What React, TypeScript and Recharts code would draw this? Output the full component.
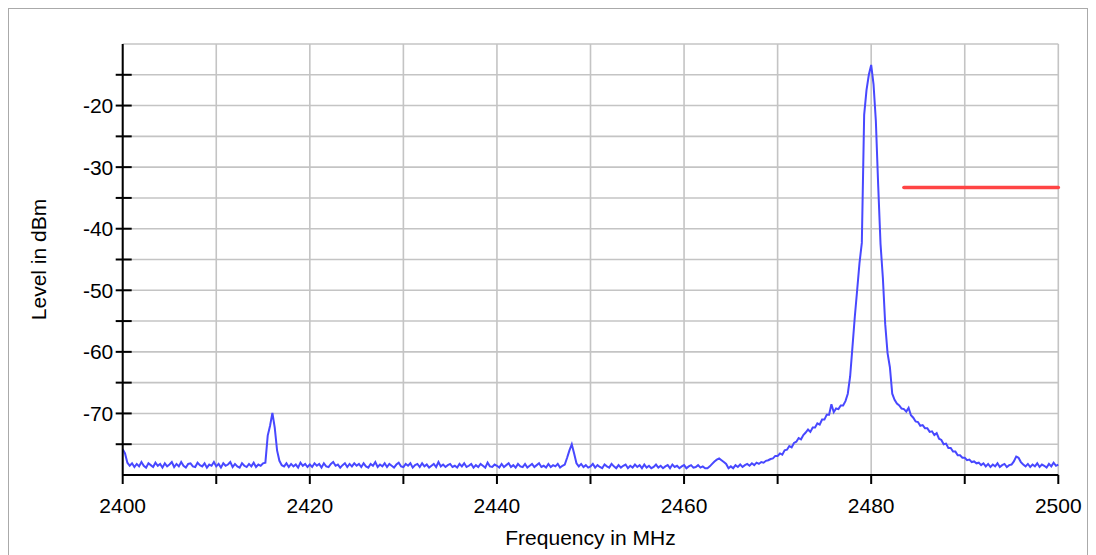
import { LineChart, Line, XAxis, YAxis, CartesianGrid, ReferenceLine } from "recharts"

// spectrum analyzer sweep, one bin every 0.25 MHz starting at 2400 MHz
const sweepStartMHz = 2400
const sweepStepMHz = 0.25

const band2400 = [
  -75.8, -76.5, -78.0, -78.5, -78.1, -78.7, -78.2, -78.6, -77.9, -78.5, -78.8, -78.1, -78.4, -78.7, -78.0, -78.5, -78.2, -78.8, -78.1, -78.6,
  -78.3, -77.9, -78.7, -78.2, -78.6, -77.9, -78.5, -78.8, -78.2, -78.1, -78.6, -78.7, -78.0, -78.4, -78.6, -78.1, -78.8, -78.3, -78.5, -77.9,
]
const band2410 = [
  -78.6, -78.2, -78.8, -78.1, -78.5, -78.3, -77.9, -78.7, -78.2, -78.6, -78.8, -78.1, -78.5, -78.7, -78.2, -78.6, -78.0, -78.7, -78.3, -78.5,
  -78.1, -78.0, -73.6, -72.0, -69.9, -72.3, -76.0, -77.7, -78.4, -78.6, -78.1, -78.7, -78.2, -78.6, -78.3, -78.8, -78.0, -78.5, -78.2, -78.7,
]
const band2420 = [
  -78.3, -78.7, -78.1, -78.5, -78.2, -78.8, -78.1, -78.6, -78.7, -78.2, -77.9, -78.5, -78.3, -78.8, -78.4, -78.1, -78.7, -78.2, -78.6, -78.1,
  -78.5, -78.2, -78.7, -78.1, -78.6, -78.8, -78.2, -78.5, -77.9, -78.7, -78.3, -78.6, -78.1, -78.7, -78.2, -78.5, -78.8, -78.3, -78.0, -78.6,
]
const band2430 = [
  -78.7, -78.2, -78.5, -78.1, -78.8, -78.4, -78.2, -78.7, -78.1, -78.6, -78.3, -78.8, -78.5, -78.2, -78.7, -77.9, -78.6, -78.3, -78.7, -78.4,
  -78.2, -78.7, -78.5, -78.8, -78.2, -78.6, -78.1, -78.7, -78.5, -78.2, -78.8, -78.4, -78.7, -78.2, -78.5, -78.8, -78.0, -78.6, -78.7, -78.3,
]
const band2440 = [
  -78.5, -78.8, -78.2, -78.7, -78.4, -78.1, -78.7, -78.4, -78.8, -78.2, -78.6, -78.7, -78.2, -78.8, -78.5, -78.2, -78.7, -78.4, -78.1, -78.7,
  -78.5, -78.8, -78.2, -78.7, -78.4, -78.6, -78.2, -78.8, -78.5, -78.3, -77.2, -76.0, -75.0, -76.5, -78.1, -78.6, -78.2, -78.7, -78.4, -78.8,
]
const band2450 = [
  -78.6, -78.2, -78.8, -78.4, -78.7, -78.9, -78.3, -78.6, -78.8, -78.2, -78.6, -78.9, -78.4, -78.8, -78.5, -78.3, -78.9, -78.5, -78.8, -78.3,
  -78.7, -78.4, -78.9, -78.3, -78.8, -78.5, -78.9, -78.7, -78.3, -78.8, -78.5, -78.9, -78.6, -78.4, -78.9, -78.3, -78.7, -78.5, -78.9, -78.6,
]
const band2460 = [
  -78.4, -78.9, -78.6, -78.4, -78.8, -78.7, -78.4, -78.8, -78.6, -78.9, -78.9, -78.6, -78.2, -77.8, -77.5, -77.3, -77.6, -77.9, -78.2, -78.9,
  -78.6, -78.9, -78.4, -78.7, -78.3, -78.7, -78.4, -78.2, -78.5, -78.1, -78.4, -78.0, -78.2, -77.9, -78.0, -77.7, -77.6, -77.4, -77.3, -76.9,
]
const band2470 = [
  -76.9, -76.5, -76.7, -76.0, -75.9, -75.3, -75.5, -74.8, -74.6, -74.0, -74.2, -73.5, -73.1, -72.6, -73.0, -72.3, -72.3, -71.6, -71.8, -71.0,
  -71.0, -70.2, -70.2, -68.5, -69.8, -69.2, -69.3, -68.7, -68.7, -68.0, -66.8, -64.0, -59.2, -54.3, -50.0, -45.6, -42.3, -21.5, -17.5, -15.0,
]
const band2480 = [
  -13.4, -16.5, -22.5, -33.0, -42.5, -48.0, -55.5, -60.2, -62.5, -66.8, -67.8, -68.4, -68.7, -69.2, -69.3, -69.7, -69.1, -70.3, -70.7, -71.3,
  -71.4, -72.0, -71.9, -72.4, -72.4, -73.0, -72.9, -73.5, -73.2, -74.1, -74.3, -75.0, -74.9, -75.6, -75.6, -76.2, -76.2, -76.8, -76.8, -77.2,
]
const band2490 = [
  -77.2, -77.6, -77.5, -77.9, -77.8, -78.1, -78.0, -78.4, -78.1, -78.6, -78.2, -78.7, -78.3, -78.6, -78.1, -78.7, -78.4, -78.2, -78.7, -78.4,
  -78.3, -77.8, -77.0, -77.2, -77.9, -78.3, -78.6, -78.2, -78.7, -78.3, -78.6, -78.1, -78.7, -78.3, -78.5, -78.8, -78.2, -78.6, -78.0, -78.5,
]
const lastBin = [-78.3]

const freqTicks = [2400, 2410, 2420, 2430, 2440, 2450, 2460, 2470, 2480, 2490, 2500]
const levelTicks = [-75, -70, -65, -60, -55, -50, -45, -40, -35, -30, -25, -20, -15]

// limit line drawn in red above the band edge
const limitStartMHz = 2483.5
const limitEndMHz = 2500
const limitDbm = -33.3

const levels = [
  ...band2400, ...band2410, ...band2420, ...band2430, ...band2440,
  ...band2450, ...band2460, ...band2470, ...band2480, ...band2490, ...lastBin,
]
const trace = levels.map((level, i) => ({ freq: sweepStartMHz + i * sweepStepMHz, level }))

const font = "'Liberation Sans', Arial, Helvetica, sans-serif"

const FreqTitle = ({ viewBox }: any) => (
  <text
    x={viewBox.x + viewBox.width / 2}
    y={viewBox.y + viewBox.height - 5}
    textAnchor="middle"
    fontFamily={font}
    fontSize={21}
    fill="#000"
  >
    Frequency in MHz
  </text>
)

const LevelTitle = ({ viewBox }: any) => {
  const cx = viewBox.x + 23
  const cy = viewBox.y + viewBox.height / 2
  return (
    <text x={cx} y={cy} transform={`rotate(-90 ${cx} ${cy})`} textAnchor="middle" fontFamily={font} fontSize={21} fill="#000">
      Level in dBm
    </text>
  )
}

export default function App() {
  return (
    <div style={{ width: 1078, height: 560, border: "1px solid #aaa", background: "#fff" }}>
      <LineChart
        width={1078}
        height={550}
        data={trace}
        margin={{ top: 35, right: 28.7, left: 13.7, bottom: 9 }}
        style={{ fontFamily: font }}
      >
        <CartesianGrid stroke="#c4c4c4" strokeWidth={1.6} />
        <XAxis
          dataKey="freq"
          type="number"
          domain={[2400, 2500]}
          ticks={freqTicks}
          interval={0}
          height={75}
          tickSize={9}
          tickMargin={14}
          tickFormatter={(v) => (v % 20 === 0 ? String(v) : "")}
          tick={{ fill: "#000", fontSize: 21 }}
          axisLine={{ stroke: "#000", strokeWidth: 2 }}
          tickLine={{ stroke: "#000", strokeWidth: 2 }}
          label={FreqTitle}
        />
        <YAxis
          type="number"
          domain={[-80, -10]}
          ticks={levelTicks}
          interval={0}
          width={100}
          tickSize={16}
          tickMargin={-6.6}
          tickFormatter={(v) => (v % 10 === 0 ? String(v) : "")}
          tick={{ fill: "#000", fontSize: 21 }}
          axisLine={{ stroke: "#000", strokeWidth: 2 }}
          tickLine={{ stroke: "#000", strokeWidth: 2, transform: "translate(9 0)" }}
          label={LevelTitle}
        />
        <Line
          type="linear"
          dataKey="level"
          stroke="#4848ff"
          strokeWidth={2}
          dot={false}
          activeDot={false}
          isAnimationActive={false}
        />
        <ReferenceLine
          segment={[
            { x: limitStartMHz, y: limitDbm },
            { x: limitEndMHz, y: limitDbm },
          ]}
          stroke="#ff4444"
          strokeWidth={3.6}
          strokeLinecap="round"
        />
      </LineChart>
    </div>
  )
}
